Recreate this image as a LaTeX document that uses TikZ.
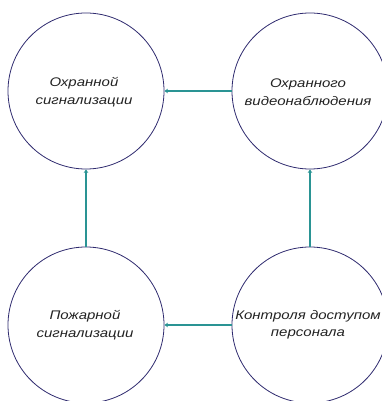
\documentclass[tikz,border=0pt]{standalone}
\usepackage{fontspec}
\setmainfont{Liberation Sans}
\newfontfamily\gostfont[FakeStretch=1.2]{Liberation Sans}
\usetikzlibrary{arrows.meta}
\definecolor{circlecol}{HTML}{2E2A6E}
\definecolor{linkcol}{HTML}{2A9494}
\definecolor{textcol}{HTML}{222222}
\tikzset{
  block/.style={circle, draw=circlecol, line width=0.8pt, minimum size=156pt, inner sep=0pt},
  label/.style={align=center, font=\gostfont\itshape\fontsize{12.5}{17.5}\selectfont, text=textcol},
  link/.style={draw=linkcol, line width=1.4pt, -{Stealth[length=3.5pt,width=4.5pt]}}
}
\begin{document}
\begin{tikzpicture}[x=1pt,y=-1pt]
\useasboundingbox (0,0) rectangle (382,401);
\node[block] (ts) at (86,91) {};
\node[block] (tv) at (310,91) {};
\node[block] (ps) at (86,325) {};
\node[block] (ka) at (310,325) {};
\node[label] (tst) at (84,92) {Охранной\\сигнализации};
\node[label] (tvt) at (308,92) {Охранного\\видеонаблюдения};
\node[label] (pst) at (85,325) {Пожарной\\сигнализации};
\node[label] (kat) at (308,325) {Контроля доступом\\персонала};
\draw[link] (tv.west) -- (ts.east);
\draw[link] (ps.north) -- (ts.south);
\draw[link] (ka.north) -- (tv.south);
\draw[link] (ka.west) -- (ps.east);
\end{tikzpicture}
\end{document}
